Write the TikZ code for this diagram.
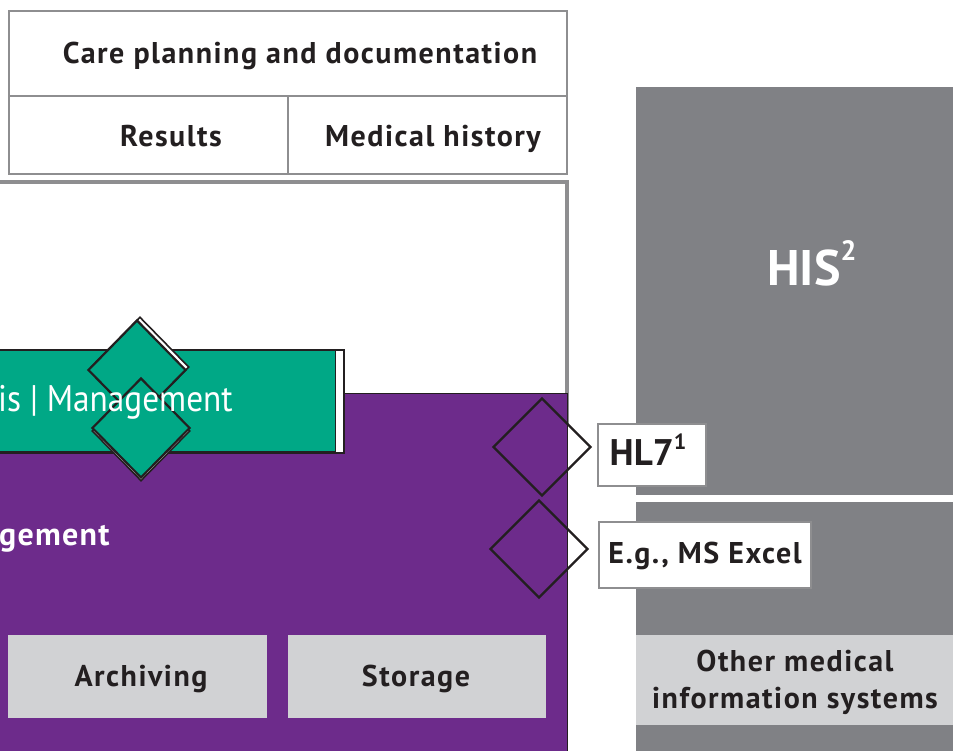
\documentclass[tikz,border=0pt]{standalone}
\usepackage{fontspec}
\setmainfont{PT Sans}
\usetikzlibrary{shapes.geometric}
\definecolor{purp}{HTML}{6D2B8B}
\definecolor{grn}{HTML}{00A886}
\definecolor{gry}{HTML}{808185}
\definecolor{lgry}{HTML}{D1D2D4}
\definecolor{txt}{HTML}{231F20}
\definecolor{bord}{HTML}{8E8E90}
\newcommand{\lblfont}{\fontsize{30}{37}\selectfont\bfseries\addfontfeature{LetterSpace=5}}
\tikzset{
  cell/.style={draw=bord, line width=2pt, fill=white, inner sep=0pt, anchor=north west},
  lbl/.style={text=txt, font=\lblfont, inner sep=0pt, anchor=base},
  plain/.style={inner sep=0pt, anchor=north west},
  gdia/.style={diamond, draw=txt, line width=2.2pt, fill=grn, inner sep=0pt, minimum width=98pt, minimum height=100pt},
  gshadow/.style={diamond, draw=txt, line width=1.6pt, fill=white, inner sep=0pt, minimum width=98pt, minimum height=100pt},
  pdia/.style={diamond, draw=txt, line width=2.4pt, inner sep=0pt, minimum width=98pt, minimum height=98pt},
  tag/.style={draw=bord, line width=2pt, fill=white, inner sep=0pt, anchor=north west}
}
\begin{document}
\begin{tikzpicture}[x=1pt,y=-1pt]
\useasboundingbox (0,0) rectangle (953,751);
% top cells
\node[cell, minimum width=558pt, minimum height=85pt] (care) at (8,10) {};
\node[lbl] (caret) at (300,64) {Care planning and documentation};
\node[cell, minimum width=279pt, minimum height=78pt] (res) at (8,95) {};
\node[lbl] (rest) at (171,147) {Results};
\node[cell, minimum width=279pt, minimum height=78pt] (med) at (287,95) {};
\node[lbl] (medt) at (433,147) {Medical history};
% big white box
\node[plain, draw=bord, line width=4pt, fill=white, minimum width=575pt, minimum height=240pt] (big) at (-10,180) {};
% purple box
\node[plain, fill=purp, draw=txt, line width=1.2pt, minimum width=577pt, minimum height=370pt] (purple) at (-10,393) {};
\node[inner sep=0pt, anchor=base west, text=white, font=\fontsize{32}{34}\selectfont\bfseries\addfontfeature{LetterSpace=4}] (mgmt) at (-1,545) {gement};
\node[plain, fill=lgry, minimum width=259pt, minimum height=83pt] (arch) at (8,635) {};
\node[lbl] (archt) at (141,686) {Archiving};
\node[plain, fill=lgry, minimum width=258pt, minimum height=83pt] (stor) at (288,635) {};
\node[lbl] (stort) at (416,686) {Storage};
% green box
\node[plain, fill=white, draw=txt, line width=1.6pt, minimum width=353pt, minimum height=103pt] (gout) at (-10,349) {};
\node[plain, fill=grn, draw=txt, line width=1.4pt, minimum width=345pt, minimum height=101pt] (green) at (-10,350) {};
% green diamonds with offset edges
\node[gshadow] (gs1) at (140,367) {};
\node[gdia] (gd1) at (137,370) {};
\node[gshadow] (gs2) at (141,431) {};
\node[gdia] (gd2) at (141,428) {};
\node[inner sep=0pt, anchor=base west, text=white, font=\fontsize{37}{40}\selectfont] (gtext) at (-2,411) {\scalebox{0.9}[1]{is | Management}};
% HIS column
\node[plain, fill=gry, minimum width=330pt, minimum height=408pt] (his) at (636,87) {};
\node[inner sep=0pt, anchor=base, text=white, font=\fontsize{50}{54}\selectfont\bfseries] (hist) at (812,286) {HIS\raisebox{0.5em}{\fontsize{28}{30}\selectfont\bfseries 2}};
\node[plain, fill=gry, minimum width=330pt, minimum height=260pt] (oth) at (636,502) {};
\node[plain, fill=lgry, minimum width=330pt, minimum height=90pt] (othb) at (636,635) {};
\node[lbl, anchor=center, align=center] (otht) at (795,682) {Other medical\\information systems};
% interfaces
\node[pdia] (pd1) at (542,447) {};
\node[pdia] (pd2) at (539,549) {};
\node[tag, minimum width=108pt, minimum height=62pt] (hl7) at (597,423) {};
\node[inner sep=0pt, anchor=base, text=txt, font=\fontsize{37}{38}\selectfont\bfseries] (hl7t) at (648,465) {HL7\raisebox{0.42em}{\fontsize{22}{24}\selectfont\bfseries 1}};
\node[tag, minimum width=212pt, minimum height=66pt] (xl) at (598,521) {};
\node[lbl] (xlt) at (705,563) {E.g., MS Excel};
\end{tikzpicture}
\end{document}
